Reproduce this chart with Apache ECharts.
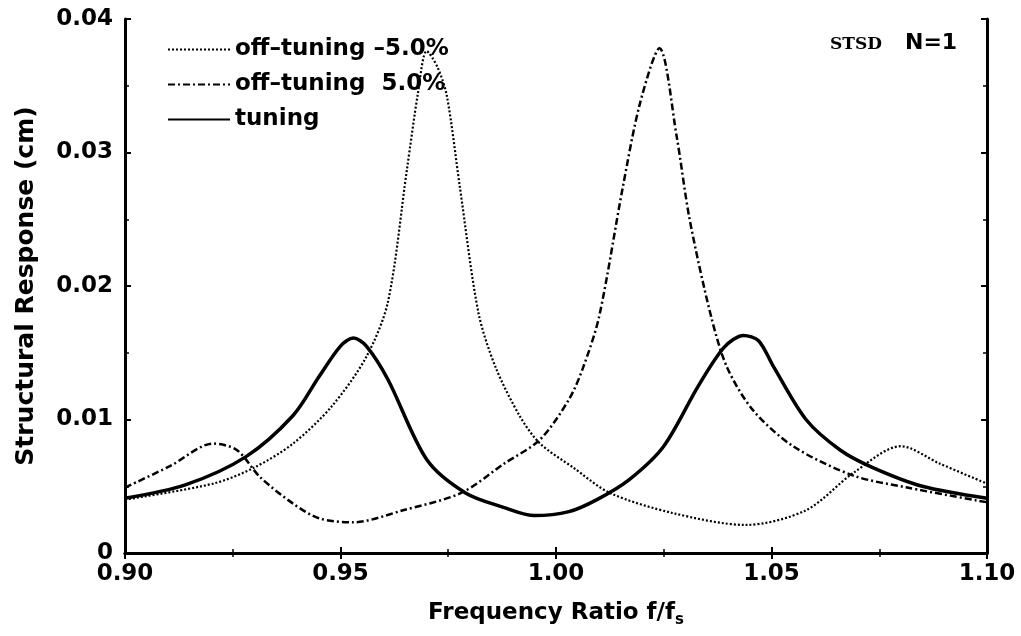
<!DOCTYPE html>
<html lang="en">
<head>
  <meta charset="UTF-8" />
  <title>Structural Response vs Frequency Ratio</title>
  <script src="https://cdn.jsdelivr.net/npm/echarts@6/dist/echarts.min.js"></script>
  <style>
    html, body { margin: 0; padding: 0; background: #fff; }
    #chart { width: 1021px; height: 636px; }
  </style>
</head>
<body>
  <div id="chart"></div>

  <script>
    // values
    const seriesNames = ['off–tuning –5.0%', 'off–tuning  5.0%', 'tuning'];

    const freqMinus = [0.900, 0.9205, 0.930, 0.939, 0.948, 0.956, 0.961, 0.9654, 0.968, 0.970, 0.9725, 0.9747, 0.9777, 0.982, 0.986, 0.9917, 0.9963, 1.004, 1.0125, 1.027, 1.044, 1.058, 1.069, 1.080, 1.089, 1.100];
    const respMinus = [0.0040, 0.0052, 0.0064, 0.0082, 0.0110, 0.0147, 0.0188, 0.0287, 0.0345, 0.0376, 0.0364, 0.0342, 0.0274, 0.0180, 0.0139, 0.0102, 0.0082, 0.0064, 0.0045, 0.0030, 0.0021, 0.0032, 0.0060, 0.0080, 0.0067, 0.0052];

    const freqPlus = [0.900, 0.9104, 0.9205, 0.926, 0.9313, 0.939, 0.945, 0.953, 0.9645, 0.978, 0.988, 0.9963, 1.003, 1.0063, 1.010, 1.0155, 1.0195, 1.024, 1.028, 1.031, 1.036, 1.0397, 1.0457, 1.055, 1.069, 1.0815, 1.100];
    const respPlus = [0.0049, 0.0065, 0.0082, 0.0077, 0.0057, 0.0037, 0.0026, 0.0023, 0.0032, 0.0045, 0.0067, 0.0085, 0.0115, 0.0139, 0.0177, 0.0274, 0.0337, 0.0378, 0.0312, 0.0250, 0.0177, 0.0139, 0.0107, 0.0080, 0.0058, 0.0049, 0.0038];

    const freqTuning = [0.900, 0.914, 0.928, 0.939, 0.945, 0.950, 0.953, 0.956, 0.961, 0.970, 0.979, 0.988, 0.995, 1.003, 1.0095, 1.017, 1.025, 1.033, 1.039, 1.0435, 1.047, 1.0504, 1.058, 1.066, 1.0735, 1.085, 1.100];
    const respTuning = [0.0041, 0.0051, 0.0072, 0.0103, 0.0132, 0.0155, 0.0161, 0.0155, 0.0130, 0.0070, 0.0045, 0.0034, 0.0028, 0.0031, 0.0040, 0.0055, 0.0080, 0.0125, 0.0154, 0.0163, 0.0159, 0.0140, 0.0100, 0.0077, 0.0064, 0.0050, 0.0041];

    const zip = (xs, ys) => xs.map((x, i) => [x, ys[i]]);

    const chart = echarts.init(document.getElementById('chart'));
    const font = 'DejaVu Sans';

    const hiddenAxis = {
      axisLine: { show: true, lineStyle: { color: '#000', width: 3 } },
      axisTick: { show: true, inside: true, length: 6, lineStyle: { color: '#000', width: 2 } },
      minorTick: { show: true, splitNumber: 2, length: 4, lineStyle: { color: '#000', width: 1.5 } },
      axisLabel: { show: false },
      splitLine: { show: false }
    };

    const option = {
      backgroundColor: '#fff',
      animation: false,
      grid: { left: 125, right: 34, top: 19, bottom: 83 },
      legend: {
        show: true,
        orient: 'vertical',
        left: 162,
        top: 33,
        itemWidth: 62,
        itemHeight: 14,
        itemGap: 12,
        data: seriesNames,
        itemStyle: { opacity: 0 },
        textStyle: { fontFamily: font, fontWeight: 'bold', fontSize: 23, color: '#000' }
      },
      xAxis: [
        {
          type: 'value',
          min: 0.9,
          max: 1.1,
          interval: 0.05,
          name: '{a|Frequency Ratio f/f}{s|s}',
          nameLocation: 'middle',
          nameGap: 46,
          nameTextStyle: {
            rich: {
              a: { fontFamily: font, fontWeight: 'bold', fontSize: 23, color: '#000' },
              s: { fontFamily: font, fontWeight: 'bold', fontSize: 15, color: '#000', padding: [14, 0, 0, 0] }
            }
          },
          axisLine: { show: true, onZero: false, lineStyle: { color: '#000', width: 3 } },
          axisTick: { show: true, inside: true, length: 6, lineStyle: { color: '#000', width: 2 } },
          minorTick: { show: true, splitNumber: 2, length: 4, lineStyle: { color: '#000', width: 1.5 } },
          axisLabel: {
            margin: 10,
            fontFamily: font, fontWeight: 'bold', fontSize: 23, color: '#000',
            formatter: v => v.toFixed(2)
          },
          splitLine: { show: false }
        },
        Object.assign({ type: 'value', min: 0.9, max: 1.1, interval: 0.05, position: 'top' }, hiddenAxis)
      ],
      yAxis: [
        {
          type: 'value',
          min: 0,
          max: 0.04,
          interval: 0.01,
          name: 'Structural Response (cm)',
          nameLocation: 'middle',
          nameRotate: 90,
          nameGap: 86,
          nameTextStyle: { fontFamily: font, fontWeight: 'bold', fontSize: 25, color: '#000' },
          axisLine: { show: true, lineStyle: { color: '#000', width: 3 } },
          axisTick: { show: true, inside: true, length: 6, lineStyle: { color: '#000', width: 2 } },
          minorTick: { show: true, splitNumber: 2, length: 4, lineStyle: { color: '#000', width: 1.5 } },
          axisLabel: {
            margin: 12,
            fontFamily: font, fontWeight: 'bold', fontSize: 23, color: '#000',
            formatter: v => (v === 0 ? '0' : v.toFixed(2))
          },
          splitLine: { show: false }
        },
        Object.assign({ type: 'value', min: 0, max: 0.04, interval: 0.01, position: 'right' }, hiddenAxis)
      ],
      series: [
        {
          name: seriesNames[0],
          type: 'line',
          data: zip(freqMinus, respMinus),
          smooth: 0.3,
          symbol: 'none',
          lineStyle: { color: '#000', width: 2.2, type: [2, 2] },
          itemStyle: { color: '#000' }
        },
        {
          name: seriesNames[1],
          type: 'line',
          data: zip(freqPlus, respPlus),
          smooth: 0.3,
          symbol: 'none',
          lineStyle: { color: '#000', width: 2.5, type: [7, 3, 2, 3] },
          itemStyle: { color: '#000' }
        },
        {
          name: seriesNames[2],
          type: 'line',
          data: zip(freqTuning, respTuning),
          smooth: 0.3,
          symbol: 'none',
          lineStyle: { color: '#000', width: 3.5 },
          itemStyle: { color: '#000' }
        }
      ],
      graphic: [
        {
          type: 'text',
          left: 830,
          top: 36,
          style: { text: 'STSD', font: 'bold 17px "DejaVu Serif"', fill: '#000' }
        },
        {
          type: 'text',
          left: 905,
          top: 32,
          style: { text: 'N=1', font: 'bold 22px "DejaVu Sans"', fill: '#000' }
        }
      ]
    };

    chart.setOption(option);
  </script>
</body>
</html>
